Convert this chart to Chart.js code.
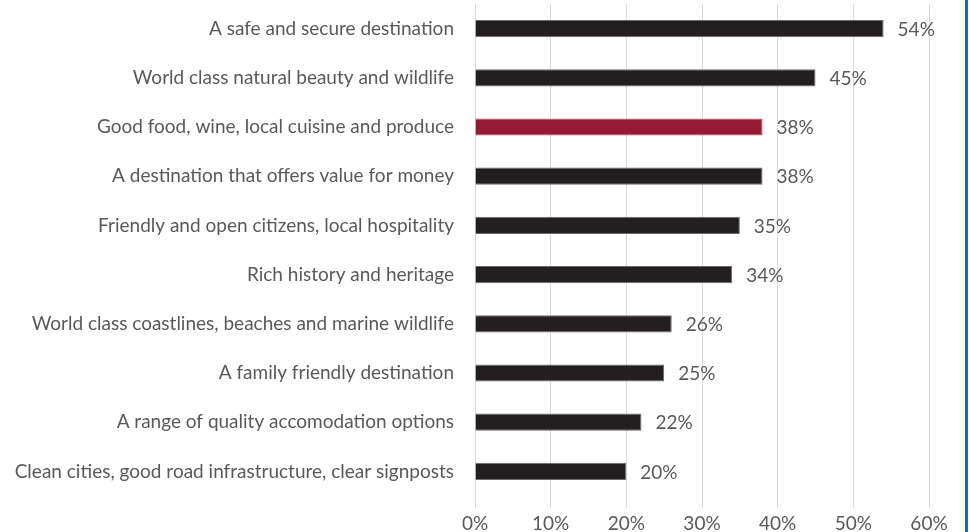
<!DOCTYPE html>
<html>
<head>
  <meta charset="utf-8">
  <title>Destination attributes</title>
  <script src="https://cdn.jsdelivr.net/npm/chart.js"></script>
  <style>
    html, body { margin: 0; padding: 0; background: #fff; }
    .wrap { position: relative; width: 969px; height: 532px; overflow: hidden; }
    .edge { position: absolute; left: 965px; top: 0; width: 3px; height: 532px; background: #0a6fc2; }
  </style>
</head>
<body>
  <div class="wrap">
    <canvas id="attributes" width="965" height="532"></canvas>
    <div class="edge"></div>
  </div>

  <script>
    // Share of respondents citing each attribute (percent)
    const attributes = [
      'A safe and secure destination',
      'World class natural beauty and wildlife',
      'Good food, wine, local cuisine and produce',
      'A destination that offers value for money',
      'Friendly and open citizens, local hospitality',
      'Rich history and heritage',
      'World class coastlines, beaches and marine wildlife',
      'A family friendly destination',
      'A range of quality accomodation options',
      'Clean cities, good road infrastructure, clear signposts'
    ];
    const shares = [54, 45, 38, 38, 35, 34, 26, 25, 22, 20];
    const highlighted = 'Good food, wine, local cuisine and produce';
    const xTicks = [0, 10, 20, 30, 40, 50, 60];

    const FONT = { family: 'Lato, "Open Sans", sans-serif', size: 19 };
    const TEXT = '#595959';

    // value labels to the right of each bar
    const valueLabels = {
      id: 'valueLabels',
      afterDatasetsDraw(chart) {
        const { ctx } = chart;
        const meta = chart.getDatasetMeta(0);
        ctx.save();
        ctx.font = `${FONT.size}px ${FONT.family}`;
        ctx.fillStyle = TEXT;
        ctx.textAlign = 'left';
        ctx.textBaseline = 'middle';
        meta.data.forEach((bar, i) => {
          ctx.fillText(shares[i] + '%', bar.x + 14, bar.y + 1);
        });
        ctx.restore();
      }
    };

    new Chart(document.getElementById('attributes'), {
      type: 'bar',
      data: {
        labels: attributes,
        datasets: [{
          data: shares,
          backgroundColor: attributes.map(a => a === highlighted ? '#961a33' : '#231f20'),
          borderColor: attributes.map(a => a === highlighted ? '#b04a5e' : '#6b6b6b'),
          borderWidth: 1,
          barPercentage: 0.7,
          categoryPercentage: 0.5
        }]
      },
      options: {
        indexAxis: 'y',
        responsive: false,
        animation: false,
        layout: { padding: { top: 4, right: 36, bottom: 0, left: 0 } },
        plugins: {
          legend: { display: false },
          tooltip: { enabled: false }
        },
        scales: {
          x: {
            min: 0,
            max: 60,
            afterBuildTicks: s => { s.ticks = xTicks.map(v => ({ value: v })); },
            afterFit: s => { s.height = 36; s.paddingLeft = 0; s.paddingRight = 0; },
            grid: { color: '#d9d9d9', lineWidth: 1, tickLength: 12, tickColor: '#d9d9d9' },
            border: { display: false },
            ticks: {
              padding: 4,
              color: TEXT,
              font: FONT,
              callback: v => v + '%'
            }
          },
          y: {
            afterFit: s => { s.width = 475; s.paddingTop = 0; s.paddingBottom = 0; },
            grid: { display: false },
            border: { display: false },
            ticks: { padding: 13, color: TEXT, font: FONT }
          }
        }
      },
      plugins: [valueLabels]
    });
  </script>
</body>
</html>
